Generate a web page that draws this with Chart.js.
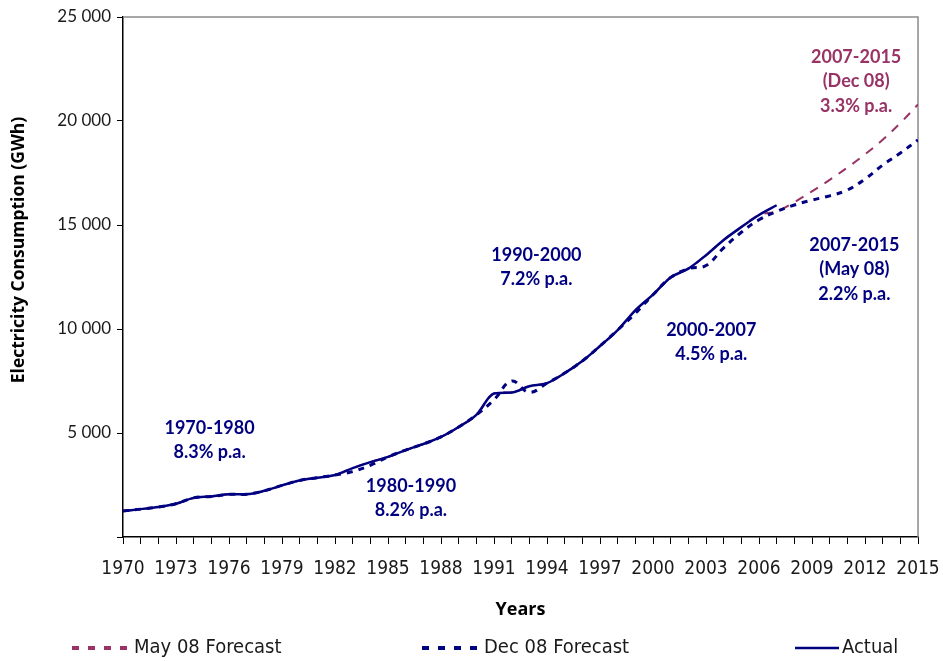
<!DOCTYPE html>
<html lang="en">

<head>
    <meta charset="UTF-8">
    <meta name="viewport" content="width=device-width, initial-scale=1.0">
    <title>Electricity Consumption</title>
    <style>
        html, body {
            margin: 0;
            padding: 0;
            background: #ffffff;
        }
        .containerCanva {
            position: relative;
            width: 943px;
            height: 661px;
        }
    </style>
</head>

<body>
    <div class="containerCanva">
        <canvas id="myChart"></canvas>
    </div>
    <script src="https://cdn.jsdelivr.net/npm/chart.js@4/dist/chart.umd.min.js"></script>
    <script>
        const years = [1970, 1971, 1972, 1973, 1974, 1975, 1976, 1977, 1978, 1979,
            1980, 1981, 1982, 1983, 1984, 1985, 1986, 1987, 1988, 1989,
            1990, 1991, 1992, 1993, 1994, 1995, 1996, 1997, 1998, 1999,
            2000, 2001, 2002, 2003, 2004, 2005, 2006, 2007, 2008, 2009,
            2010, 2011, 2012, 2013, 2014, 2015];

        // GWh, 1970 - 2007
        const actual = [1250, 1340, 1440, 1600, 1880, 1950, 2050, 2060, 2220, 2480,
            2720, 2850, 2980, 3310, 3600, 3850, 4180, 4470, 4810, 5290,
            5870, 6900, 6950, 7250, 7400, 7880, 8460, 9180, 9950, 10900,
            11650, 12480, 12900, 13550, 14280, 14900, 15480, 15950];

        // GWh, 1970 - 2015
        const mayForecast = [1250, 1340, 1440, 1600, 1880, 1950, 2050, 2060, 2220, 2480,
            2720, 2850, 2980, 3310, 3600, 3850, 4180, 4470, 4810, 5290,
            5870, 6900, 6950, 7250, 7400, 7880, 8460, 9180, 9950, 10900,
            11650, 12480, 12900, 13550, 14280, 14900, 15480, 15650, 16100, 16620,
            17170, 17760, 18400, 19100, 19900, 20800];

        const decForecast = [1250, 1340, 1440, 1600, 1880, 1950, 2050, 2060, 2220, 2480,
            2720, 2850, 2980, 3150, 3450, 3850, 4180, 4470, 4810, 5290,
            5870, 6600, 7500, 6950, 7400, 7880, 8460, 9180, 9950, 10750,
            11650, 12480, 12900, 13050, 13900, 14650, 15250, 15650, 15960, 16200,
            16400, 16680, 17210, 17880, 18460, 19090];

        const xTickLabels = ['1970', '1973', '1976', '1979', '1982', '1985', '1988', '1991',
            '1994', '1997', '2000', '2003', '2006', '2009', '2012', '2015'];
        const yTickLabels = ['', '5 000', '10 000', '15 000', '20 000', '25 000'];

        const NAVY = '#000080';
        const PLUM = '#993366';

        // growth-rate notes: [year, GWh, colour, lines]
        const notes = [
            [1974.9, 5250, NAVY, ['1970-1980', '8.3% p.a.']],
            [1986.3, 2450, NAVY, ['1980-1990', '8.2% p.a.']],
            [1993.4, 13560, NAVY, ['1990-2000', '7.2% p.a.']],
            [2003.3, 9950, NAVY, ['2000-2007', '4.5% p.a.']],
            [2011.5, 23080, PLUM, ['2007-2015', '(Dec 08)', '3.3% p.a.']],
            [2011.4, 14040, NAVY, ['2007-2015', '(May 08)', '2.2% p.a.']]
        ];

        const toPoints = vals => vals.map((v, i) => ({ x: years[i], y: v }));

        const textFont = "'Liberation Sans Narrow', 'DejaVu Sans Condensed', 'Liberation Sans', sans-serif";
        const boldFont = "Lato, 'Open Sans', sans-serif";

        // gray frame on top/right, black axes on left/bottom
        const frame = {
            id: 'frame',
            beforeDatasetsDraw(chart) {
                const { ctx, chartArea: a } = chart;
                ctx.save();
                ctx.strokeStyle = '#8a8a8a';
                ctx.lineWidth = 1.5;
                ctx.beginPath();
                ctx.moveTo(a.left, a.top);
                ctx.lineTo(a.right, a.top);
                ctx.lineTo(a.right, a.bottom);
                ctx.stroke();
                ctx.restore();
            }
        };

        const notesPlugin = {
            id: 'notes',
            afterDatasetsDraw(chart) {
                const { ctx, scales } = chart;
                ctx.save();
                ctx.font = 'bold 18px ' + boldFont;
                ctx.textAlign = 'center';
                ctx.textBaseline = 'middle';
                notes.forEach(([yr, val, color, lines]) => {
                    const x = scales.x.getPixelForValue(yr);
                    const y = scales.y.getPixelForValue(val);
                    ctx.fillStyle = color;
                    lines.forEach((t, i) => ctx.fillText(t, x, y + i * 24.5));
                });
                // vertical axis title, sits a little above the middle of the axis
                ctx.translate(19, 250);
                ctx.rotate(-Math.PI / 2);
                ctx.fillStyle = '#000';
                ctx.font = "bold 17.5px 'Open Sans', Lato, sans-serif";
                ctx.fillText('Electricity Consumption (GWh)', 0, 0);
                ctx.restore();
            }
        };

        // legend drawn along the bottom edge
        const bottomLegend = {
            id: 'bottomLegend',
            afterDraw(chart) {
                const { ctx } = chart;
                const order = [2, 1, 0];
                const starts = [72, 422, 795];
                const y = 648;
                ctx.save();
                ctx.font = '20px ' + textFont;
                ctx.textBaseline = 'middle';
                ctx.textAlign = 'left';
                order.forEach((di, k) => {
                    const ds = chart.data.datasets[di];
                    const x0 = starts[k];
                    ctx.strokeStyle = ds.borderColor;
                    if (ds.borderDash) {
                        ctx.lineWidth = 4;
                        ctx.setLineDash([7, 9]);
                        ctx.beginPath();
                        ctx.moveTo(x0, y);
                        ctx.lineTo(x0 + 62, y);
                        ctx.stroke();
                    } else {
                        ctx.lineWidth = 2.5;
                        ctx.setLineDash([]);
                        ctx.beginPath();
                        ctx.moveTo(x0, y);
                        ctx.lineTo(x0 + 44, y);
                        ctx.stroke();
                    }
                    ctx.setLineDash([]);
                    ctx.fillStyle = '#1a1a1a';
                    ctx.fillText(ds.label, x0 + (ds.borderDash ? 62 : 47), y);
                });
                ctx.restore();
            }
        };

        const ctx = document.getElementById('myChart').getContext('2d');
        const myChart = new Chart(ctx, {
            type: 'line',
            data: {
                datasets: [{
                    label: 'Actual',
                    data: toPoints(actual),
                    borderColor: NAVY,
                    borderWidth: 2.5,
                    cubicInterpolationMode: 'monotone',
                    pointRadius: 0
                }, {
                    label: 'Dec 08 Forecast',
                    data: toPoints(decForecast),
                    borderColor: NAVY,
                    borderWidth: 3,
                    borderDash: [6, 6],
                    tension: 0.4,
                    pointRadius: 0
                }, {
                    label: 'May 08 Forecast',
                    data: toPoints(mayForecast),
                    borderColor: PLUM,
                    borderWidth: 2,
                    borderDash: [9, 8],
                    tension: 0.4,
                    pointRadius: 0
                }]
            },
            options: {
                responsive: true,
                maintainAspectRatio: false,
                animation: false,
                layout: {
                    padding: { left: 0, right: 25, top: 17, bottom: 36 }
                },
                plugins: {
                    legend: { display: false },
                    tooltip: { enabled: false }
                },
                scales: {
                    x: {
                        type: 'linear',
                        min: 1970,
                        max: 2015,
                        afterFit: s => {
                            s.height = 88;
                            s.paddingLeft = 0;
                            s.paddingRight = 0;
                        },
                        border: { color: '#000', width: 1.5 },
                        grid: {
                            drawOnChartArea: false,
                            drawTicks: true,
                            tickLength: 7,
                            color: '#000'
                        },
                        ticks: {
                            stepSize: 1,
                            autoSkip: false,
                            maxRotation: 0,
                            padding: 14,
                            color: '#1a1a1a',
                            font: { family: textFont, size: 19 },
                            callback: v => xTickLabels.includes(String(v)) ? String(v) : ''
                        },
                        title: {
                            display: true,
                            text: 'Years',
                            color: '#000',
                            font: { family: "'Open Sans', Lato, sans-serif", size: 18, weight: 'bold' },
                            padding: { top: 6 }
                        }
                    },
                    y: {
                        min: 0,
                        max: 25000,
                        afterFit: s => { s.width = 123; },
                        border: { color: '#000', width: 1.5 },
                        grid: {
                            drawOnChartArea: false,
                            drawTicks: true,
                            tickLength: 6,
                            color: '#000'
                        },
                        ticks: {
                            stepSize: 5000,
                            padding: 6,
                            color: '#1a1a1a',
                            font: { family: "Lato, 'Open Sans', sans-serif", size: 17 },
                            callback: v => yTickLabels[v / 5000]
                        }
                    }
                }
            },
            plugins: [frame, notesPlugin, bottomLegend]
        });
    </script>
</body>

</html>
